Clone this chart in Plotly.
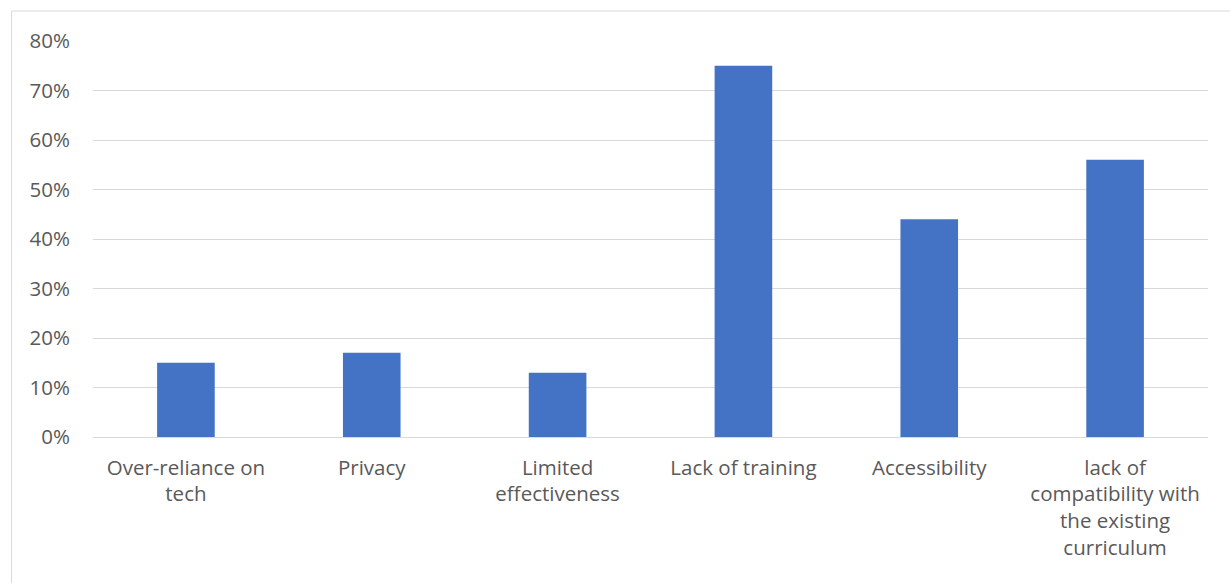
import plotly.graph_objects as go

categories = [
    "Over-reliance on<br>tech",
    "Privacy",
    "Limited<br>effectiveness",
    "Lack of training",
    "Accessibility",
    "lack of<br>compatibility with<br>the existing<br>curriculum",
]
values = [0.15, 0.17, 0.13, 0.75, 0.44, 0.56]
y_ticks = [0, 0.1, 0.2, 0.3, 0.4, 0.5, 0.6, 0.7, 0.8]
y_tick_labels = ["0%", "10%", "20%", "30%", "40%", "50%", "60%", "70%", "80%"]

W, H = 1230, 583
L, R, T, B = 92.5, 21.5, 41, 146
plot_w = W - L - R
plot_h = H - T - B

fig = go.Figure(
    go.Bar(
        x=categories,
        y=values,
        marker=dict(color="#4472c4", line=dict(width=0)),
        hoverinfo="x+y",
    )
)

fig.update_layout(
    width=W,
    height=H,
    margin=dict(l=L, r=R, t=T, b=B, pad=0),
    paper_bgcolor="white",
    plot_bgcolor="white",
    bargap=0.69,
    showlegend=False,
    font=dict(family="'Open Sans', sans-serif", size=20.5, color="#595959"),
)

fig.update_xaxes(
    showgrid=False,
    showline=True,
    linecolor="#d9d9d9",
    linewidth=1,
    ticks="",
    tickfont=dict(size=20.5, color="#595959"),
    ticklabelstandoff=12,
)

fig.update_yaxes(
    range=[0, 0.8],
    tickvals=y_ticks,
    ticktext=y_tick_labels,
    showgrid=True,
    gridcolor="#d9d9d9",
    gridwidth=1,
    zeroline=False,
    showline=False,
    ticks="",
    tickfont=dict(size=20.5, color="#595959"),
    ticklabelstandoff=22,
)

# outer chart frame, its right and bottom edges run past the page
fig.add_shape(
    type="rect",
    xref="paper",
    yref="paper",
    x0=(11 - L) / plot_w,
    x1=(W + 20 - L) / plot_w,
    y0=(H - B - (H + 20)) / plot_h,
    y1=(H - B - 11) / plot_h,
    line=dict(color="#d9d9d9", width=1),
    fillcolor="rgba(0,0,0,0)",
    layer="below",
)

fig.write_html("out.html")
